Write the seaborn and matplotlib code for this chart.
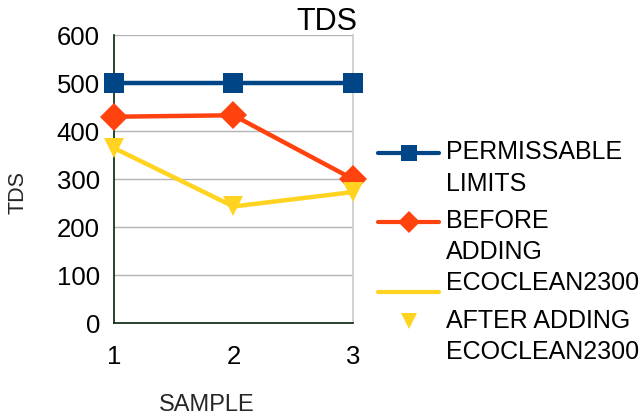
#!/usr/bin/env python3
"""TDS line chart before / after adding ECOCLEAN2300."""

import seaborn as sns
import pandas as pd
import matplotlib.pyplot as plt
from matplotlib.lines import Line2D
from matplotlib.legend_handler import HandlerLine2DCompound

# DATA
samples = [1, 2, 3]
permissable = [500, 500, 500]
before = [430, 433, 300]
after = [365, 243, 273]

series_names = ["PERMISSABLE LIMITS", "BEFORE ADDING ECOCLEAN2300", "AFTER ADDING ECOCLEAN2300"]
legend_labels = ["PERMISSABLE\nLIMITS", "BEFORE\nADDING\nECOCLEAN2300", "AFTER ADDING\nECOCLEAN2300"]
colors = ["#004586", "#ff420e", "#ffd320"]
markers = ["s", "D", "v"]

df = pd.DataFrame({
    "SAMPLE": samples * 3,
    "TDS": permissable + before + after,
    "series": [s for s in series_names for _ in samples],
})

sns.set_theme(style="white")
plt.rcParams["font.family"] = ["Liberation Sans", "DejaVu Sans"]
plt.rcParams["text.color"] = "black"


class ShiftedHandler(HandlerLine2DCompound):
    """Line handle moved up to the first text line (line and marker shifted separately)."""
    def __init__(self, line_dy, marker_dy, **kw):
        super().__init__(**kw)
        self.line_dy = line_dy
        self.marker_dy = marker_dy

    def create_artists(self, legend, orig_handle, xdescent, ydescent, width, height, fontsize, trans):
        arts = super().create_artists(legend, orig_handle, xdescent, ydescent, width, height, fontsize, trans)
        line, mark = arts[0], arts[1]
        line.set_ydata([y + self.line_dy for y in line.get_ydata()])
        mark.set_ydata([y + self.marker_dy for y in mark.get_ydata()])
        return arts


fig = plt.figure(figsize=(6.43, 4.18), dpi=100)
ax = fig.add_axes([0.177, 0.227, 0.372, 0.689])

sns.lineplot(data=df, x="SAMPLE", y="TDS", hue="series", style="series",
             palette=dict(zip(series_names, colors)),
             markers=dict(zip(series_names, markers)), dashes=False,
             linewidth=3.2, markersize=14, markeredgewidth=0,
             legend=False, ax=ax)

ax.set_xlim(1, 3)
ax.set_ylim(0, 600)
ax.set_xticks(samples)
ax.set_yticks(range(0, 601, 100))
ax.yaxis.grid(True, color="#b3b3b3", linewidth=1)
ax.set_axisbelow(True)
for line in ax.lines:
    line.set_zorder(3)
    line.set_clip_on(False)

ax.spines["top"].set_visible(False)
ax.spines["right"].set_color("#cccccc")
ax.spines["left"].set_color("#0e2e14")
ax.spines["bottom"].set_color("#0e2e14")
ax.tick_params(axis="both", direction="out", length=7, width=1.2, color="#0e2e14",
               labelsize=18.5, labelcolor="black", pad=3)
ax.tick_params(axis="x", pad=9)

ax.set_xlabel("SAMPLE", fontsize=17, va="center")
ax.xaxis.set_label_coords(0.389, -0.285)
ax.set_ylabel("TDS", fontsize=15.5, va="center")
ax.yaxis.set_label_coords(-0.40, 0.455)

fig.text(0.509, 0.948, "TDS", fontsize=22, ha="center", va="center")

ls_pt = 22.3  # legend text line spacing in points
handles = [Line2D([], [], color=c, marker=m, linewidth=3, markersize=11, markeredgewidth=0)
           for c, m in zip(colors, markers)]
hmap = {
    handles[0]: ShiftedHandler(0.5 * ls_pt, 0.5 * ls_pt),
    handles[1]: ShiftedHandler(1.0 * ls_pt, 1.0 * ls_pt),
    handles[2]: ShiftedHandler(0.5 * ls_pt + 21, 0.5 * ls_pt),
}
leg = ax.legend(handles, legend_labels, loc="upper left", bbox_to_anchor=(0.588, 0.664),
                bbox_transform=fig.transFigure, frameon=False, fontsize=18,
                handlelength=2.45, handletextpad=0.28, labelspacing=0.53,
                borderpad=0, borderaxespad=0, handler_map=hmap)
for t in leg.get_texts():
    t.set_linespacing(1.38)
    t.set_color("black")

fig.savefig("out.png", dpi=100)
